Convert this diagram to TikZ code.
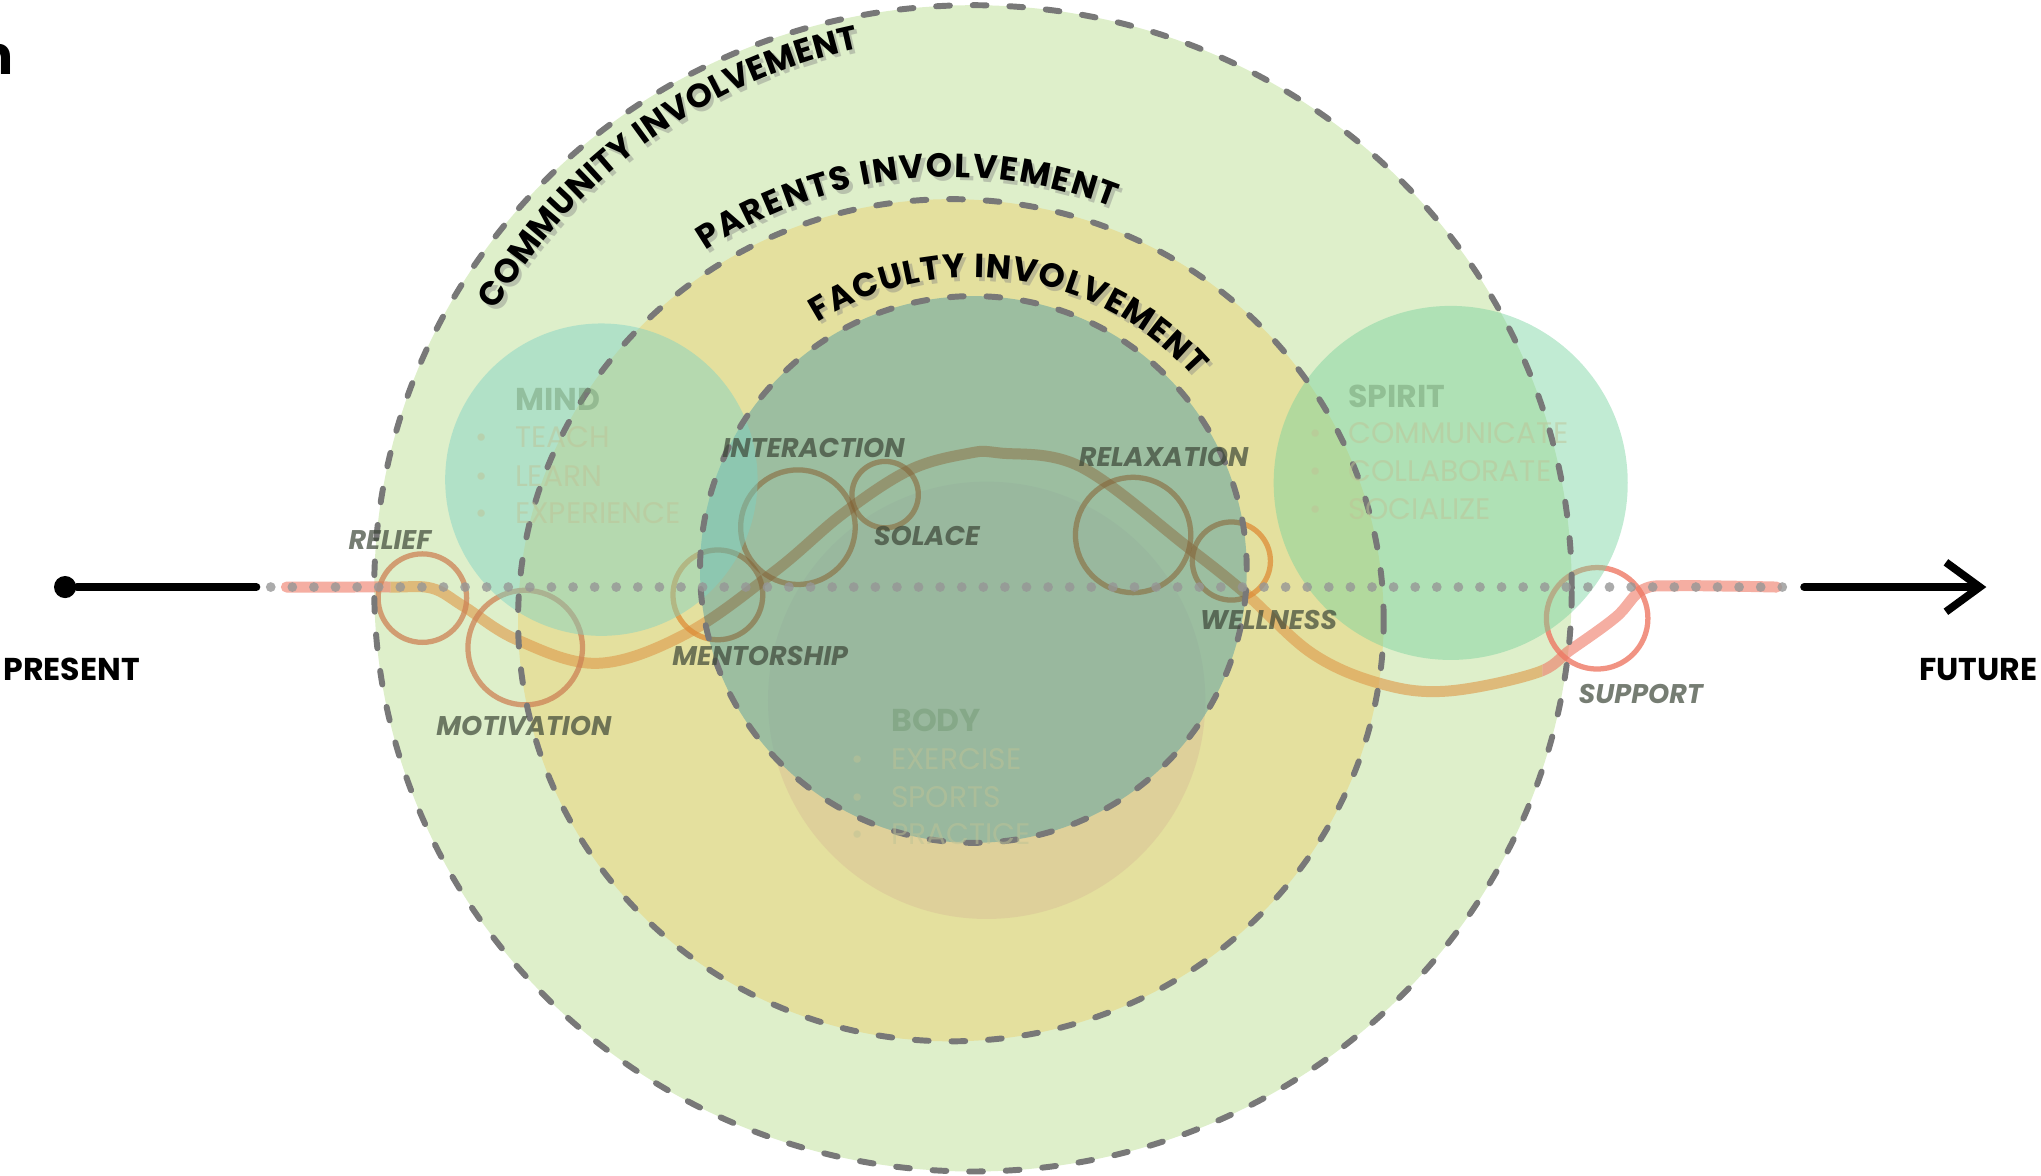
\documentclass[tikz,border=0pt]{standalone}
\usepackage{fontspec}
\setmainfont{Poppins}
\usetikzlibrary{positioning, arrows.meta, decorations.text}

\definecolor{commgreen}{RGB}{222,239,202}
\definecolor{paryellow}{RGB}{228,224,158}
\definecolor{facteal}{RGB}{108,168,162}
\definecolor{mindmint}{RGB}{124,210,197}
\definecolor{spiritmint}{RGB}{118,210,157}
\definecolor{bodytan}{RGB}{215,190,150}
\definecolor{dashgray}{RGB}{120,120,120}
\definecolor{dotgray}{RGB}{150,150,150}
\definecolor{lineorange}{RGB}{222,158,80}
\definecolor{linesalmon}{RGB}{238,120,100}
\definecolor{ringbrown}{RGB}{205,130,85}
\definecolor{ringorange}{RGB}{222,140,55}
\definecolor{labelgray}{RGB}{60,70,55}
\definecolor{headgreen}{RGB}{110,150,110}
\definecolor{itemkhaki}{RGB}{190,195,150}

\newcommand\ringfont{\fontsize{7.3}{8}\selectfont\bfseries}

\begin{document}
\begin{tikzpicture}[
    dot/.style={circle, fill=black, inner sep=0pt, minimum size=0.17cm}, % start of the time line
    timeline/.style={line width=1.7pt, line cap=round},
    border/.style={draw=dashgray, line width=1.3pt, line cap=round, dash pattern=on 3pt off 5pt},
    trail/.style={line width=2.4pt, draw opacity=.65, line cap=round},
    ring/.style={draw=ringorange, draw opacity=.75, line width=1.15pt, circle, inner sep=0pt},
    lbl/.style={font=\fontsize{5.9}{6}\selectfont\bfseries\itshape, text=labelgray, text opacity=.7, inner sep=0pt},
    head/.style={font=\fontsize{6.9}{7}\selectfont\bfseries, text=headgreen, text opacity=.45, inner sep=0pt, anchor=base west},
    item/.style={font=\fontsize{6.5}{7}\selectfont, text=itemkhaki, text opacity=.5, inner sep=0pt, anchor=base west},
    bul/.style={item, anchor=base},
    curved/.style 2 args={decorate, decoration={text along path, text align=fit to path, text color=#2, text={|\ringfont|#1}}}
    ]
\useasboundingbox (0,0) rectangle (15.68,9.03);

% involvement rings
\coordinate (cc) at (7.475,4.51);
\coordinate (pc) at (7.305,4.265);
\coordinate (fc) at (7.478,4.655);
\fill[commgreen] (cc) ellipse (4.60 and 4.48);
\fill[paryellow] (pc) ellipse (3.325 and 3.235);
\fill[bodytan, opacity=.45] (7.58,3.65) circle (1.68);

% the trail
\path[save path=\trailpath] plot[smooth, tension=.6] coordinates {(2.20,4.52) (2.60,4.52) (3.02,4.52) (3.32,4.51) (3.565,4.37) (3.976,4.113) (4.594,3.934) (5.278,4.165) (5.965,4.651) (6.48,5.087) (6.99,5.42) (7.44,5.547) (7.68,5.55) (8.30,5.445) (9.12,4.83) (9.57,4.47) (10.08,4.01) (10.60,3.78) (11.11,3.72) (11.80,3.86) (12.07,4.04) (12.415,4.29) (12.62,4.50) (12.90,4.53) (13.65,4.52)};
\begin{scope}
\clip (3.0,0) rectangle (11.85,9.03);
\draw[trail, lineorange, use path=\trailpath];
\end{scope}
\begin{scope}
\clip (0,0) rectangle (3.0,9.03) (11.85,0) rectangle (15.68,9.03);
\draw[trail, linesalmon, draw opacity=.6, use path=\trailpath];
\end{scope}

\node[ring, draw=ringbrown, minimum size=.68cm] (reliefc) at (3.245,4.435) {};
\node[ring, draw=ringbrown, minimum size=.88cm] (motivc) at (4.035,4.055) {};
\node[ring, minimum size=.69cm] (mentorc) at (5.515,4.46) {};
\node[ring, minimum size=.88cm] (interc) at (6.13,4.98) {};
\node[ring, minimum size=.51cm] (solacec) at (6.80,5.23) {};
\node[ring, minimum size=.886cm] (relaxc) at (8.705,4.92) {};
\node[ring, minimum size=.60cm] (wellc) at (9.46,4.72) {};
\node[ring, draw=linesalmon, draw opacity=.8, minimum size=.78cm] (supportc) at (12.27,4.28) {};

\fill[facteal, opacity=.6] (fc) circle (2.10);
% trail seen through the faculty circle
\begin{scope}
\clip (fc) circle (2.10);
\draw[trail, draw=lineorange!60!black, draw opacity=.3, use path=\trailpath];
\draw[ringorange!55!black, opacity=.3, line width=1.15pt] (mentorc.center) circle (.345);
\draw[ringorange!55!black, opacity=.3, line width=1.15pt] (interc.center) circle (.44);
\draw[ringorange!55!black, opacity=.3, line width=1.15pt] (solacec.center) circle (.255);
\draw[ringorange!55!black, opacity=.3, line width=1.15pt] (relaxc.center) circle (.443);
\draw[ringorange!55!black, opacity=.3, line width=1.15pt] (wellc.center) circle (.30);
\end{scope}
\fill[mindmint, opacity=.45] (4.62,5.345) circle (1.20);
\fill[spiritmint, opacity=.45] (11.145,5.32) circle (1.36);

\draw[border] (cc) ellipse (4.60 and 4.48);
\draw[border] (pc) ellipse (3.325 and 3.235);
\draw[border] (fc) circle (2.10);

% dotted present line
\coordinate (ds) at (2.08,4.52);
\coordinate (de) at (13.72,4.52);
\draw[dotgray, opacity=.8, line width=0.075cm, line cap=round, dash pattern=on 0pt off 4.72pt] (ds) -- (de);

% mind, body, spirit
\node[head] (mind) at (3.95,5.88) {MIND};
\node[item] (teach) at (3.95,5.59) {TEACH};
\node[item] (learn) at (3.95,5.296) {LEARN};
\node[item] (exper) at (3.95,5.01) {EXPERIENCE};
\node[bul] (m1) at (3.70,5.59) {•};
\node[bul] (m2) at (3.70,5.296) {•};
\node[bul] (m3) at (3.70,5.01) {•};

\node[head] (spirit) at (10.35,5.90) {SPIRIT};
\node[item] (commu) at (10.35,5.62) {COMMUNICATE};
\node[item] (colla) at (10.35,5.33) {COLLABORATE};
\node[item] (socia) at (10.35,5.04) {SOCIALIZE};
\node[bul] (s1) at (10.11,5.62) {•};
\node[bul] (s2) at (10.11,5.33) {•};
\node[bul] (s3) at (10.11,5.04) {•};

\node[head] (body) at (6.84,3.41) {BODY};
\node[item] (exerc) at (6.84,3.115) {EXERCISE};
\node[item] (sport) at (6.84,2.825) {SPORTS};
\node[item] (pract) at (6.84,2.54) {PRACTICE};
\node[bul] (b1) at (6.59,3.115) {•};
\node[bul] (b2) at (6.59,2.825) {•};
\node[bul] (b3) at (6.59,2.54) {•};

% stops on the trail
\node[lbl] (relief) at (2.995,4.885) {RELIEF};
\node[lbl] (motiv) at (4.025,3.45) {MOTIVATION};
\node[lbl] (mentor) at (5.84,3.99) {MENTORSHIP};
\node[lbl] (inter) at (6.25,5.59) {INTERACTION};
\node[lbl] (solace) at (7.12,4.914) {SOLACE};
\node[lbl] (relax) at (8.94,5.523) {RELAXATION};
\node[lbl] (well) at (9.745,4.265) {WELLNESS};
\node[lbl] (support) at (12.605,3.695) {SUPPORT};

% ring titles with shadow
\begin{scope}[opacity=.4, shift={(0.025,-0.03)}]
\path[curved={COMMUNITY INVOLVEMENT}{gray}] ([shift={(149.8:4.24)}]7.475,4.51) arc[start angle=149.8, end angle=101.8, radius=4.24];
\path[curved={PARENTS INVOLVEMENT}{gray}] ([shift={(123.6:3.405)}]7.305,4.265) arc[start angle=123.6, end angle=68.5, radius=3.405];
\path[curved={FACULTY INVOLVEMENT}{gray}] ([shift={(122.2:2.245)}]7.478,4.655) arc[start angle=122.2, end angle=41.1, radius=2.245];
\end{scope}
\path[curved={COMMUNITY INVOLVEMENT}{black}] ([shift={(149.8:4.24)}]7.475,4.51) arc[start angle=149.8, end angle=101.8, radius=4.24];
\path[curved={PARENTS INVOLVEMENT}{black}] ([shift={(123.6:3.405)}]7.305,4.265) arc[start angle=123.6, end angle=68.5, radius=3.405];
\path[curved={FACULTY INVOLVEMENT}{black}] ([shift={(122.2:2.245)}]7.478,4.655) arc[start angle=122.2, end angle=41.1, radius=2.245];

% time line
\node[dot] (now) at (0.50,4.52) {};
\coordinate (nowend) at (1.97,4.52);
\draw[timeline] (now) -- (nowend);
\coordinate (fs) at (13.86,4.52);
\coordinate (fe) at (15.26,4.52);
\draw[timeline, -{Straight Barb[length=2.6mm, width=3.8mm]}] (fs) -- (fe);
\node[anchor=west, font=\fontsize{6.9}{7}\selectfont\bfseries, inner sep=0pt] (present) at (0.02,3.89) {PRESENT};
\node[anchor=east, font=\fontsize{6.9}{7}\selectfont\bfseries, inner sep=0pt] (future) at (15.66,3.89) {FUTURE};
\node[anchor=base east, font=\fontsize{11.7}{12}\selectfont\bfseries, inner sep=0pt] (title) at (0.115,8.454) {n};
\end{tikzpicture}
\end{document}
